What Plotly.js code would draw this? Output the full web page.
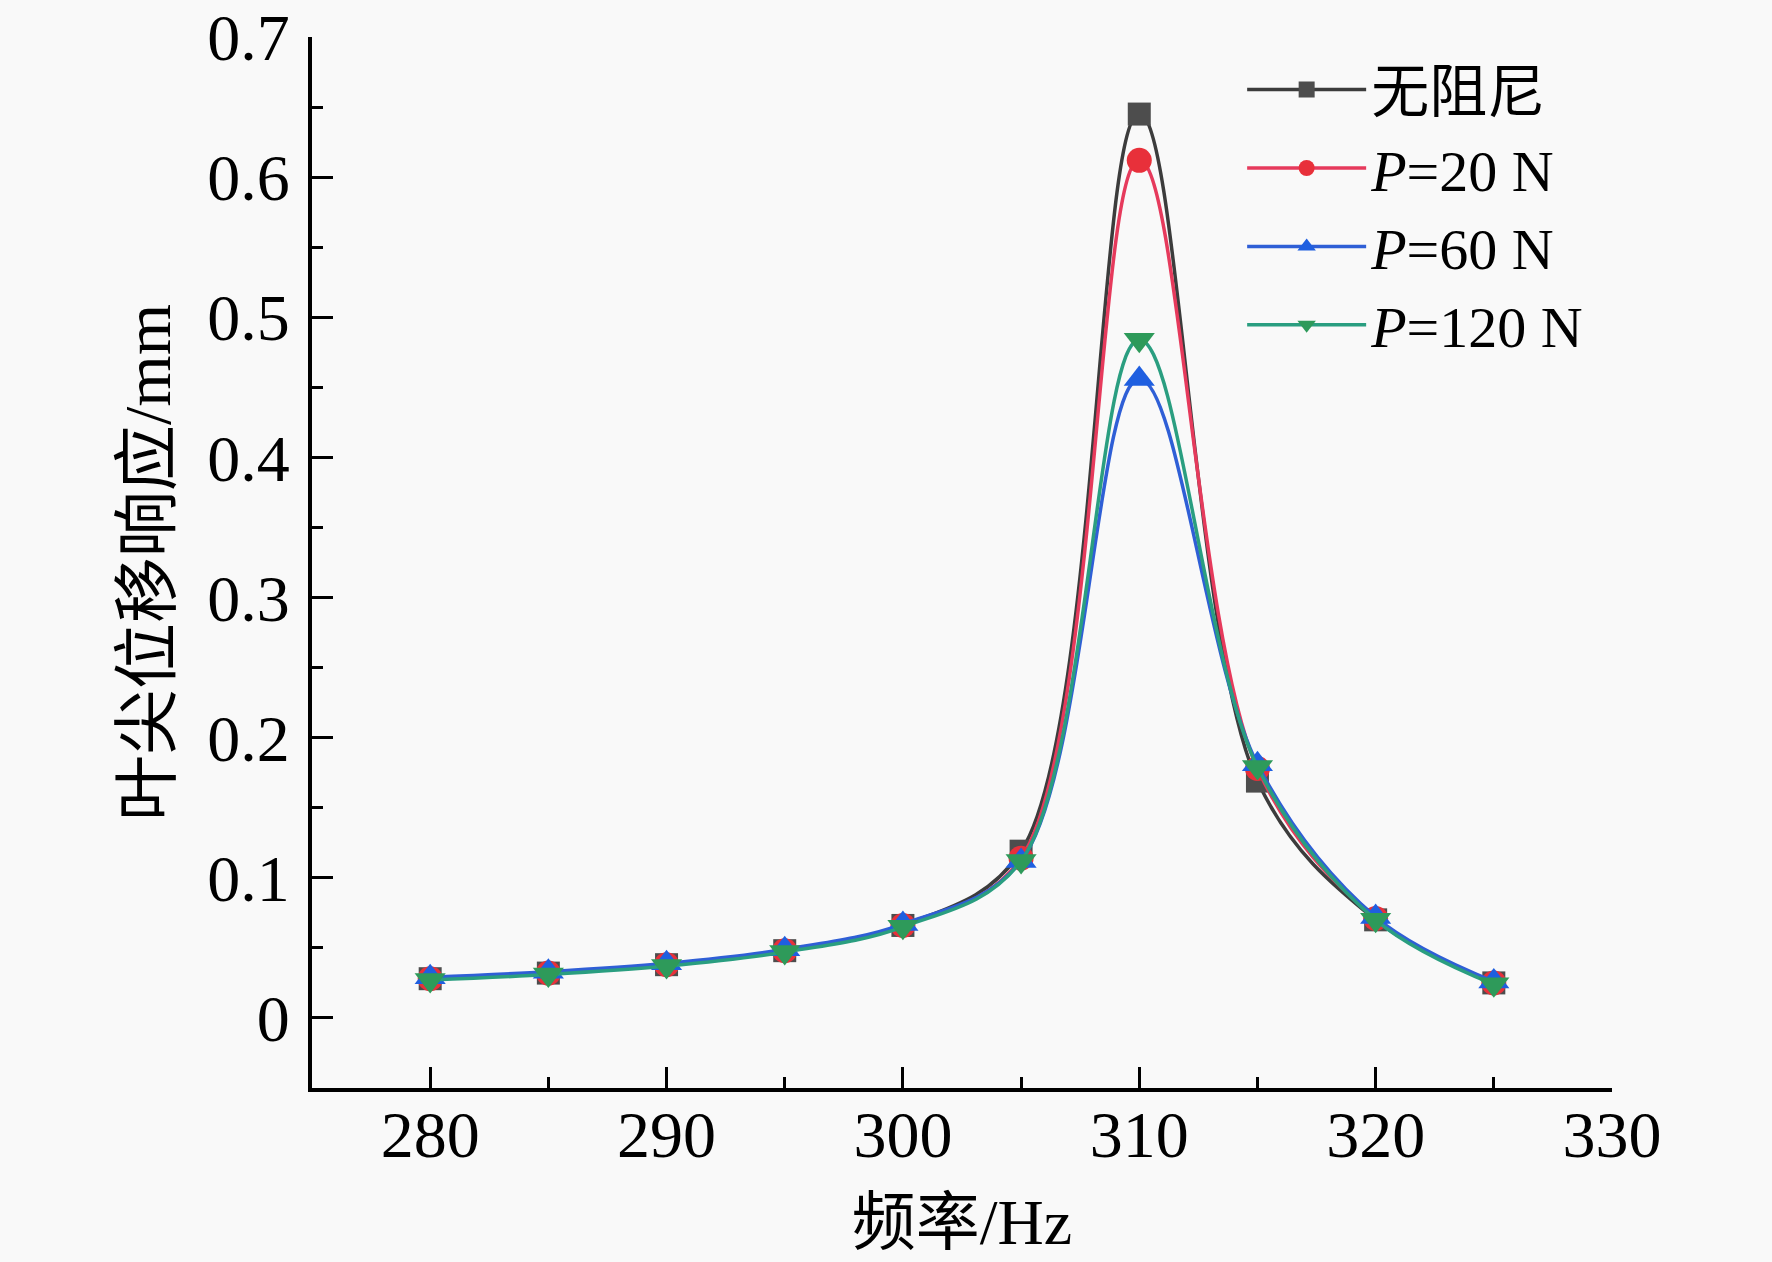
<!DOCTYPE html>
<html>
<head>
<meta charset="utf-8">
<script src="https://cdn.plot.ly/plotly-3.0.1.min.js"></script>
<style>
  html, body { margin: 0; padding: 0; background: #f9f9f9; }
  #chart { width: 1772px; height: 1262px; }
</style>
</head>
<body>
<div id="chart"></div>
<script>
// frequency (Hz)
const freq = [280, 285, 290, 295, 300, 305, 310, 315, 320, 325];

// blade tip displacement response (mm)
const noDamping = [0.028, 0.032, 0.038, 0.048, 0.066, 0.119, 0.645, 0.169, 0.070, 0.025];
const p20 = [0.028, 0.032, 0.038, 0.048, 0.066, 0.114, 0.612, 0.178, 0.071, 0.025];
const p60 = [0.029, 0.033, 0.039, 0.049, 0.067, 0.112, 0.456, 0.181, 0.072, 0.026];
const p120 = [0.027, 0.031, 0.037, 0.047, 0.065, 0.112, 0.484, 0.179, 0.070, 0.024];

const seriesNames = ['无阻尼', '<i>P</i>=20 N', '<i>P</i>=60 N', '<i>P</i>=120 N'];

const FONT = '"Liberation Serif", "Times New Roman", "Noto Sans CJK SC", serif';

function trace(y, name, lineColor, markerColor, symbol, size) {
    return {
        type: 'scatter',
        mode: 'lines+markers',
        x: freq,
        y: y,
        name: name,
        line: { color: lineColor, width: 3.5, shape: 'spline', smoothing: 1 },
        marker: { symbol: symbol, size: size, color: markerColor, line: { width: 0 } }
    };
}

const data = [
    trace(noDamping, seriesNames[0], '#3c3c3c', '#4d4d4d', 'square', 23),
    trace(p20, seriesNames[1], '#e63a5c', '#e8303a', 'circle', 25),
    trace(p60, seriesNames[2], '#2f5fd6', '#1f5fe0', 'triangle-up', 27),
    trace(p120, seriesNames[3], '#2a9e80', '#2e9a5a', 'triangle-down', 27)
];

const axisCommon = {
    showline: true,
    linecolor: '#000',
    linewidth: 4,
    mirror: false,
    showgrid: false,
    zeroline: false,
    ticks: 'inside',
    ticklen: 21,
    tickwidth: 3,
    tickcolor: '#000',
    tickfont: { family: FONT, size: 66, color: '#000' }
};

const layout = {
    width: 1772,
    height: 1262,
    paper_bgcolor: '#f9f9f9',
    plot_bgcolor: '#f9f9f9',
    margin: { l: 312, r: 160, t: 37, b: 174 },
    font: { family: FONT, color: '#000' },
    showlegend: true,
    legend: {
        x: 0.7155,
        y: 0.992,
        xanchor: 'left',
        yanchor: 'top',
        bgcolor: 'rgba(0,0,0,0)',
        itemwidth: 119,
        font: { family: FONT, size: 58, color: '#000' }
    },
    xaxis: Object.assign({}, axisCommon, {
        range: [275, 330],
        tick0: 280,
        dtick: 10,
        ticklabelstandoff: -14,
        minor: { dtick: 5, ticks: 'inside', ticklen: 11, tickwidth: 3, tickcolor: '#000' },
        title: { text: '频率/Hz', font: { family: FONT, size: 64, color: '#000' }, standoff: 30 }
    }),
    yaxis: Object.assign({}, axisCommon, {
        range: [-0.05, 0.7],
        tick0: 0,
        dtick: 0.1,
        ticklabelstandoff: 5,
        minor: { dtick: 0.05, ticks: 'inside', ticklen: 11, tickwidth: 3, tickcolor: '#000' },
        title: { text: '叶尖位移响应/mm', font: { family: FONT, size: 66, color: '#000' }, standoff: 16 }
    })
};

Plotly.newPlot('chart', data, layout, { displayModeBar: false, staticPlot: true });
</script>
</body>
</html>
